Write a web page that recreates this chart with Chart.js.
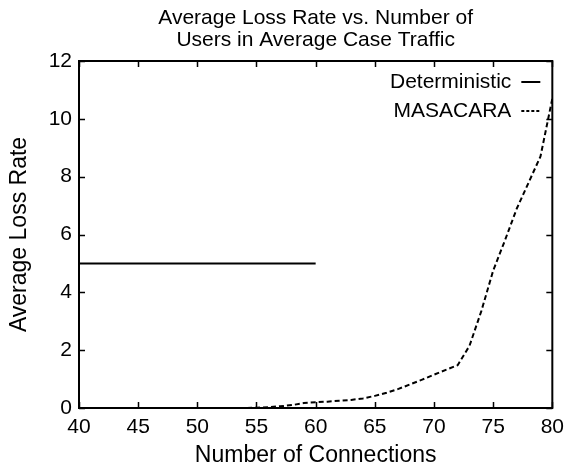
<!DOCTYPE html>
<html>
<head>
<meta charset="utf-8">
<script src="https://cdn.jsdelivr.net/npm/chart.js@4/dist/chart.umd.min.js"></script>
<style>
  html, body { margin: 0; padding: 0; background: #fff; }
  #wrap { width: 571px; height: 472px; }
</style>
</head>
<body>
<div id="wrap"><canvas id="c" width="571" height="472"></canvas></div>
<script>
const titleLines = ["Average Loss Rate vs. Number of", "Users in Average Case Traffic"];
const xAxisTitle = "Number of Connections";
const yAxisTitle = "Average Loss Rate";

const detX = [40, 60];
const detY = [5, 5];

const masX = [40, 54, 55, 56, 57, 58, 59, 60, 61, 62, 63, 64, 65, 66, 67, 68, 69, 70, 71, 72, 73, 74, 75, 76, 77, 78, 79, 80];
const masY = [0, 0, 0.01, 0.03, 0.06, 0.1, 0.17, 0.2, 0.22, 0.25, 0.28, 0.33, 0.42, 0.53, 0.66, 0.82, 0.98, 1.15, 1.32, 1.48, 2.15, 3.35, 4.75, 5.8, 6.9, 7.8, 8.7, 10.7];

const xTicks = [40, 45, 50, 55, 60, 65, 70, 75, 80];
const yTicks = [0, 2, 4, 6, 8, 10, 12];

const seriesNames = ["Deterministic", "MASACARA"];

const FONT = "'Liberation Sans', Arial, Helvetica, sans-serif";

function pts(xs, ys) { return xs.map((x, i) => ({ x: x, y: ys[i] })); }

const frame = {
  id: 'frame',
  afterDatasetsDraw(chart) {
    const { ctx, chartArea: a, scales } = chart;
    ctx.save();
    ctx.strokeStyle = '#000';
    ctx.fillStyle = '#000';

    // title (centered over the plot area)
    ctx.font = "21px " + FONT;
    ctx.textAlign = 'center';
    ctx.textBaseline = 'alphabetic';
    const cx = (a.left + a.right) / 2;
    ctx.fillText(titleLines[0], cx, 24);
    ctx.fillText(titleLines[1], cx, 46);

    // inward ticks on all four sides
    ctx.lineWidth = 1.5;
    const tl = 6;
    ctx.beginPath();
    xTicks.forEach(v => {
      const px = Math.round(scales.x.getPixelForValue(v)) + 0.5;
      ctx.moveTo(px, a.bottom); ctx.lineTo(px, a.bottom - tl);
      ctx.moveTo(px, a.top); ctx.lineTo(px, a.top + tl);
    });
    yTicks.forEach(v => {
      const py = Math.round(scales.y.getPixelForValue(v)) + 0.5;
      ctx.moveTo(a.left, py); ctx.lineTo(a.left + tl, py);
      ctx.moveTo(a.right, py); ctx.lineTo(a.right - tl, py);
    });
    ctx.stroke();
    ctx.lineWidth = 2;
    ctx.strokeRect(a.left, a.top, a.right - a.left, a.bottom - a.top);

    // legend
    ctx.font = "21px " + FONT;
    ctx.textAlign = 'right';
    ctx.textBaseline = 'middle';
    const tx = a.right - 41;
    const ly = [a.top + 21, a.top + 50];
    const styles = [[], [3, 2]];
    seriesNames.forEach((n, i) => {
      ctx.fillText(n, tx, ly[i]);
      ctx.setLineDash(styles[i]);
      ctx.lineWidth = 2;
      ctx.beginPath();
      ctx.moveTo(tx + 10, ly[i]);
      ctx.lineTo(a.right - 12, ly[i]);
      ctx.stroke();
    });
    ctx.setLineDash([]);
    ctx.restore();
  }
};

new Chart(document.getElementById('c'), {
  type: 'line',
  data: {
    datasets: [
      {
        label: seriesNames[0],
        data: pts(detX, detY),
        borderColor: '#000',
        borderWidth: 2,
        pointRadius: 0,
        tension: 0,
        fill: false
      },
      {
        label: seriesNames[1],
        data: pts(masX, masY),
        borderColor: '#000',
        borderWidth: 2,
        borderDash: [5, 3],
        pointRadius: 0,
        tension: 0,
        fill: false
      }
    ]
  },
  options: {
    responsive: false,
    animation: false,
    devicePixelRatio: 1,
    layout: { padding: { left: 0, right: 13, top: 61, bottom: 0 } },
    plugins: {
      legend: { display: false },
      tooltip: { enabled: false },
      title: { display: false }
    },
    scales: {
      x: {
        type: 'linear',
        min: 40, max: 80,
        afterBuildTicks: s => { s.ticks = xTicks.map(v => ({ value: v })); },
        afterFit: s => { s.height = 64; },
        grid: { display: false, drawTicks: false },
        border: { display: false },
        ticks: { color: '#000', padding: 7, maxRotation: 0, font: { family: FONT, size: 21 } },
        title: { display: true, text: xAxisTitle, color: '#000', padding: { top: 0, bottom: 3 }, font: { family: FONT, size: 23 } }
      },
      y: {
        type: 'linear',
        min: 0, max: 12,
        afterBuildTicks: s => { s.ticks = yTicks.map(v => ({ value: v })); },
        afterFit: s => { s.width = 79; },
        grid: { display: false, drawTicks: false },
        border: { display: false },
        ticks: { color: '#000', padding: 7, font: { family: FONT, size: 21 } },
        title: { display: true, text: yAxisTitle, color: '#000', padding: { top: 6, bottom: 0 }, font: { family: FONT, size: 23 } }
      }
    }
  },
  plugins: [frame]
});
</script>
</body>
</html>
